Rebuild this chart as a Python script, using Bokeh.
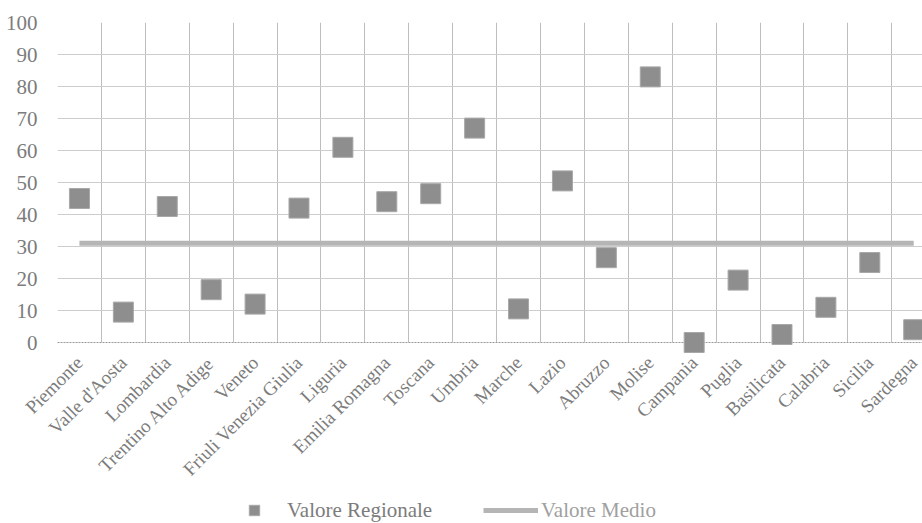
from bokeh.plotting import figure
from bokeh.models import Range1d, FixedTicker, Legend, LegendItem, ColumnDataSource
from bokeh.layouts import column
from bokeh.embed import file_html
from bokeh.resources import INLINE
import math

regions = ["Piemonte", "Valle d'Aosta", "Lombardia", "Trentino Alto Adige", "Veneto",
           "Friuli Venezia Giulia", "Liguria", "Emilia Romagna", "Toscana", "Umbria",
           "Marche", "Lazio", "Abruzzo", "Molise", "Campania", "Puglia", "Basilicata",
           "Calabria", "Sicilia", "Sardegna"]
valore_regionale = [45, 9.5, 42.5, 16.5, 12, 42, 61, 44, 46.5, 67,
                    10.5, 50.5, 26.5, 83, 0, 19.5, 2.5, 11, 25, 4]
valore_medio = 31
y_ticks = [0, 10, 20, 30, 40, 50, 60, 70, 80, 90, 100]
series_names = ["Valore Regionale", "Valore Medio"]

idx = list(range(len(regions)))
src = ColumnDataSource(dict(x=idx, y=valore_regionale))
avg_src = ColumnDataSource(dict(x=[idx[0], idx[-1]], y=[valore_medio, valore_medio]))

FONT = "Liberation Serif"
TXT = "#7c7c7c"
SQ_FILL, SQ_LINE = "#8e8e8e", "#a8a8a8"
AVG_COLOR = "#b5b5b5"

p = figure(width=922, height=490, output_backend="svg", toolbar_location=None,
           x_range=Range1d(-0.5, 19.2), y_range=Range1d(0, 100),
           min_border_left=57, min_border_right=0, min_border_top=22, min_border_bottom=147)
p.outline_line_color = None
p.background_fill_color = "white"

# grids
p.ygrid.ticker = FixedTicker(ticks=y_ticks)
p.xgrid.ticker = FixedTicker(ticks=[i - 0.5 for i in idx] + [len(idx) - 0.5])
p.xgrid.grid_line_color = "#bdbdbd"
p.ygrid.grid_line_color = "#cdcdcd"

# y axis
p.yaxis.ticker = FixedTicker(ticks=y_ticks)
p.yaxis.axis_line_color = None
p.yaxis.major_tick_line_color = None
p.yaxis.minor_tick_line_color = None
p.yaxis.major_label_standoff = 14
p.yaxis.major_label_text_font = FONT
p.yaxis.major_label_text_font_size = "21px"
p.yaxis.major_label_text_color = TXT

# x axis
p.xaxis.ticker = FixedTicker(ticks=idx)
p.xaxis.major_label_overrides = {i: r for i, r in enumerate(regions)}
p.xaxis.major_label_orientation = math.pi / 4
p.xaxis.axis_line_color = "#999999"
p.xaxis.axis_line_dash = "2 1"
p.xaxis.major_tick_line_color = None
p.xaxis.minor_tick_line_color = None
p.xaxis.major_label_standoff = 11
p.xaxis.major_label_text_font = FONT
p.xaxis.major_label_text_font_size = "19px"
p.xaxis.major_label_text_color = TXT

p.line("x", "y", source=avg_src, line_color=AVG_COLOR, line_width=5)
p.scatter("x", "y", source=src, marker="square", size=20,
          fill_color=SQ_FILL, line_color=SQ_LINE, line_width=1, level="overlay")

# legend strip (separate small figure so the legend sits below the rotated labels)
lg = figure(width=922, height=33, output_backend="svg", toolbar_location=None,
            x_range=Range1d(0, 1), y_range=Range1d(0, 1),
            min_border_left=0, min_border_right=0, min_border_top=0, min_border_bottom=0)
lg.axis.visible = False
lg.grid.visible = False
lg.outline_line_color = None
# legend key renderers: their single key point lies outside the strip's ranges
key_sq = ColumnDataSource(dict(x=[-5], y=[-5]))
key_line = ColumnDataSource(dict(x=[-5, -4], y=[-5, -5]))
r_sq = lg.scatter("x", "y", source=key_sq, marker="square",
                  fill_color=SQ_FILL, line_color=SQ_LINE)
r_avg = lg.line("x", "y", source=key_line, line_color=AVG_COLOR, line_width=5)

leg1 = Legend(items=[LegendItem(label=series_names[0], renderers=[r_sq])],
              location=(184, 0), padding=0, margin=0,
              glyph_width=26, glyph_height=26, label_standoff=20,
              border_line_color=None, background_fill_alpha=0,
              label_text_font=FONT, label_text_font_size="21px", label_text_color=TXT)
leg2 = Legend(items=[LegendItem(label=series_names[1], renderers=[r_avg])],
              location=(426, 0), padding=0, margin=0,
              glyph_width=55, glyph_height=26, label_standoff=3,
              border_line_color=None, background_fill_alpha=0,
              label_text_font=FONT, label_text_font_size="21px", label_text_color="#a0a0a0")
lg.add_layout(leg1, "center")
lg.add_layout(leg2, "center")

layout = column(p, lg, spacing=0)
open("out.html", "w").write(file_html(layout, INLINE))
